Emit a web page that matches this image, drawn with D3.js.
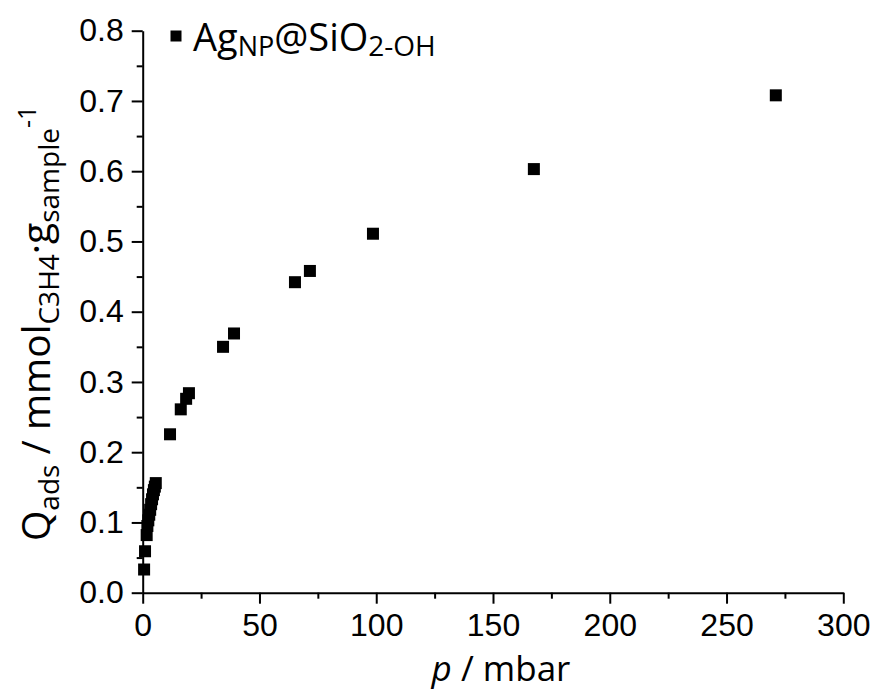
<!DOCTYPE html>
<html>
<head>
<meta charset="utf-8">
<script src="https://cdn.jsdelivr.net/npm/d3@7"></script>
<style>
  html, body { margin: 0; padding: 0; background: #fff; }
  svg { display: block; }
</style>
</head>
<body>
<div id="chart"></div>
<script>
// ---------------- data ----------------
const pressure = [0.6, 1.0, 1.7, 2.0, 2.4, 2.8, 3.2, 3.6, 4.0, 4.4, 4.8, 5.2, 5.6,
                  11.7, 16.3, 18.6, 19.8, 34.4, 39.1, 65.2, 71.6, 98.6, 167.5, 271.1];
const qads = [0.033, 0.059, 0.082, 0.095, 0.103, 0.111, 0.118, 0.126, 0.133, 0.140, 0.146, 0.151, 0.156,
              0.2255, 0.261, 0.276, 0.284, 0.350, 0.369, 0.442, 0.458, 0.511, 0.603, 0.708];
const xTicks = [0, 50, 100, 150, 200, 250, 300];
const xMinor = [25, 75, 125, 175, 225, 275];
const yTicks = [0, 0.1, 0.2, 0.3, 0.4, 0.5, 0.6, 0.7, 0.8];
const yMinor = [0.05, 0.15, 0.25, 0.35, 0.45, 0.55, 0.65, 0.75];

const points = pressure.map((p, i) => ({ p: p, q: qads[i] }));

// ---------------- setup ----------------
const W = 877, H = 690;
const svg = d3.select("#chart").append("svg")
    .attr("width", W)
    .attr("height", H);

const x = d3.scaleLinear().domain([0, 300]).range([142.7, 843.3]);
const y = d3.scaleLinear().domain([0, 0.8]).range([592.7, 30.7]);

const tickFont = "'Liberation Sans', Arial, sans-serif";
const titleFont = "'Open Sans', 'Noto Sans', sans-serif";

// ---------------- axes ----------------
const gx = svg.append("g").attr("transform", "translate(0," + y(0) + ")");
gx.call(d3.axisBottom(x).tickValues(xTicks).tickFormat(d3.format("d"))
    .tickSize(11).tickSizeOuter(0).tickPadding(10));
gx.append("g").call(d3.axisBottom(x).tickValues(xMinor).tickFormat("")
    .tickSize(6).tickSizeOuter(0))
  .select(".domain").remove();

const gy = svg.append("g").attr("transform", "translate(" + x(0) + ",0)");
gy.call(d3.axisLeft(y).tickValues(yTicks).tickFormat(d3.format(".1f"))
    .tickSize(11).tickSizeOuter(0).tickPadding(8));
gy.append("g").call(d3.axisLeft(y).tickValues(yMinor).tickFormat("")
    .tickSize(6).tickSizeOuter(0))
  .select(".domain").remove();

svg.selectAll(".domain, .tick line")
    .attr("stroke", "#000")
    .attr("stroke-width", 2);
svg.selectAll(".tick text")
    .attr("fill", "#000")
    .style("font-family", tickFont)
    .style("font-size", "32px");

// ---------------- points ----------------
const ms = 12;
svg.append("g").selectAll("rect")
    .data(points)
    .enter()
    .append("rect")
    .attr("x", d => x(d.p) - ms / 2)
    .attr("y", d => y(d.q) - ms / 2)
    .attr("width", ms)
    .attr("height", ms)
    .attr("fill", "#000");

// ---------------- axis titles ----------------
const xt = svg.append("text")
    .attr("x", 501)
    .attr("y", 681)
    .attr("text-anchor", "middle")
    .style("font-family", titleFont)
    .style("font-size", "35px")
    .attr("fill", "#000");
xt.append("tspan").style("font-style", "italic").text("p");
xt.append("tspan").text(" / mbar");

const yt = svg.append("text")
    .attr("transform", "translate(50,541) rotate(-90)")
    .attr("text-anchor", "start")
    .style("font-family", titleFont)
    .style("font-size", "39px")
    .attr("fill", "#000");
yt.append("tspan").text("Q");
yt.append("tspan").attr("dy", 9).style("font-size", "28px").text("ads");
yt.append("tspan").attr("dy", -9).text(" / mmol");
yt.append("tspan").attr("dy", 9).style("font-size", "28px").text("C3H4");
yt.append("tspan").attr("dy", -9).text("·g");
yt.append("tspan").attr("dy", 9).style("font-size", "28px").text("sample");
yt.append("tspan").attr("dy", -23).style("font-size", "25px").text("-1");

// ---------------- legend ----------------
svg.append("rect")
    .attr("x", 176 - 5.5)
    .attr("y", 36 - 5.5)
    .attr("width", 11)
    .attr("height", 11)
    .attr("fill", "#000");

const lg = svg.append("text")
    .attr("x", 193)
    .attr("y", 51)
    .style("font-family", titleFont)
    .style("font-size", "38px")
    .attr("fill", "#000");
lg.append("tspan").text("Ag");
lg.append("tspan").attr("dy", 5).style("font-size", "27px").text("NP");
lg.append("tspan").attr("dy", -5).text("@SiO");
lg.append("tspan").attr("dy", 5).style("font-size", "28px").text("2-OH");
</script>
</body>
</html>
